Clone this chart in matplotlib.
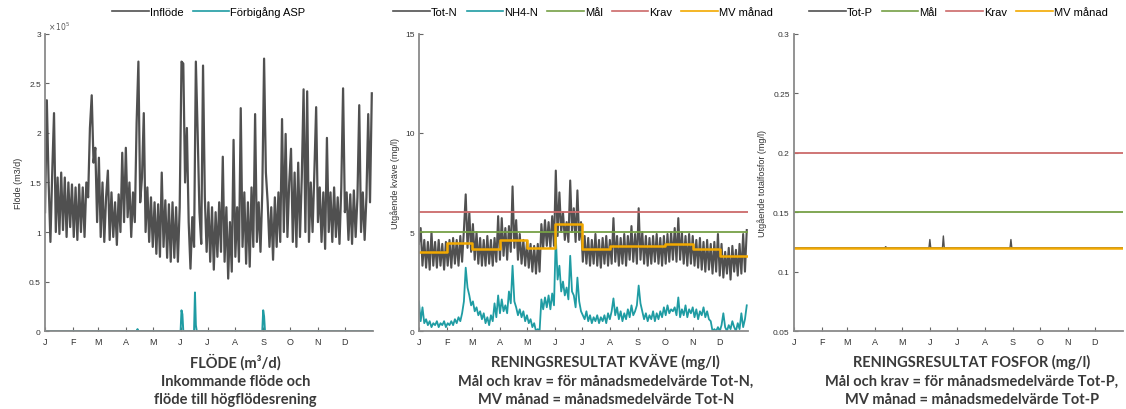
import numpy as np
import matplotlib
matplotlib.use("Agg")
import matplotlib.pyplot as plt

plt.rcParams['font.family'] = ['Liberation Sans', 'DejaVu Sans']

month_labels = ["J", "F", "M", "A", "M", "J", "J", "A", "S", "O", "N", "D"]
month_start = [0, 31, 59, 90, 120, 151, 181, 212, 243, 273, 304, 334]

# inflow, unit 1e5 m3/d, every second day
inflow_e5 = [
    1.20, 2.33, 1.50, 0.90, 1.60, 2.20, 1.00, 1.55, 0.98, 1.60, 1.02, 1.55, 0.95, 1.50, 1.05, 1.48,  # jan
    0.95, 1.45, 0.92, 1.48, 1.00, 1.45, 0.95, 1.50, 1.35, 2.05, 2.38, 1.70, 1.85, 1.10,  # feb
    1.75, 0.95, 1.50, 0.90, 1.35, 1.62, 0.92, 1.40, 0.95, 1.30, 0.87, 1.38, 1.00, 1.80, 1.10, 1.85,  # mar
    1.15, 1.50, 0.95, 1.40, 1.10, 2.10, 2.72, 1.30, 1.55, 2.20, 1.00, 1.45, 0.90, 1.35, 0.85,  # apr
    1.30, 0.78, 1.28, 0.75, 1.60, 0.85, 1.32, 0.74, 1.28, 0.70, 1.30, 0.74, 1.25, 0.70, 1.25,  # maj
    2.72, 2.70, 1.50, 2.05, 1.10, 0.63, 1.15, 0.85, 2.72, 2.00, 1.20, 0.88, 2.68, 1.35, 0.80,  # jun
    1.30, 0.70, 1.25, 0.62, 1.20, 0.75, 1.30, 0.80, 1.76, 0.70, 1.25, 0.53, 1.10, 0.60, 1.93, 0.75,  # jul
    1.25, 0.70, 2.25, 0.85, 1.40, 0.68, 1.30, 0.65, 1.45, 0.85, 2.19, 0.90, 1.30, 0.80, 1.40,  # aug
    2.75, 1.60, 1.30, 0.85, 1.25, 0.72, 1.35, 0.85, 1.40, 0.90, 2.14, 1.00, 1.99, 0.95, 1.50,  # sep
    1.84, 0.90, 1.60, 0.85, 1.70, 0.95, 1.55, 2.44, 1.00, 2.42, 0.90, 1.50, 1.00, 1.60, 2.26,  # okt
    1.10, 1.45, 0.90, 1.40, 0.83, 1.95, 1.00, 1.40, 0.90, 1.45, 0.95, 1.35, 0.88, 1.45, 2.45,  # nov
    1.20, 1.40, 0.92, 1.38, 0.88, 1.42, 0.95, 1.35, 2.28, 1.00, 1.40, 0.92, 1.35, 2.19, 1.30, 2.40,  # dec
]

# bypass ASP, unit 1e5 m3/d
bypass_days = [0, 102, 103, 104, 151, 152, 153, 154, 166, 167, 168, 169, 242, 243, 244, 245, 365]
bypass_e5 = [0, 0, 0.02, 0, 0, 0.21, 0.17, 0, 0, 0.39, 0.06, 0, 0, 0.21, 0.15, 0, 0]

# Tot-N, mg/l, every second day
tot_n = [
    4.4, 5.2, 3.3, 4.6, 3.2, 4.5, 3.1, 5.0, 3.3, 4.5, 3.2, 4.6, 3.3, 4.4, 3.1, 4.5,
    3.3, 4.6, 3.2, 4.7, 3.4, 4.6, 3.3, 4.8, 3.5, 5.1, 6.9, 4.2, 6.0, 4.0,
    5.4, 3.6, 5.0, 3.4, 4.7, 3.3, 4.6, 3.3, 4.8, 3.4, 4.6, 3.3, 4.7, 3.5, 5.8, 3.6,
    5.7, 3.8, 5.2, 3.6, 5.3, 4.0, 7.3, 4.2, 5.6, 3.6, 4.9, 3.4, 4.6, 3.3, 4.5,
    3.2, 4.4, 3.0, 4.3, 2.9, 4.4, 3.0, 5.4, 4.2, 5.6, 4.3, 5.5, 4.2, 5.8, 4.3,
    8.1, 4.8, 7.0, 5.0, 6.0, 4.6, 5.5, 4.5, 7.6, 5.0, 6.2, 4.5, 7.1, 4.6, 5.5,
    3.5, 4.8, 3.4, 4.7, 3.3, 4.6, 3.4, 4.9, 3.3, 4.6, 3.2, 4.7, 3.4, 4.8, 3.3, 4.6,
    3.4, 5.7, 3.5, 4.8, 3.3, 4.7, 3.4, 4.9, 3.3, 4.8, 3.6, 5.3, 3.5, 4.9, 3.4,
    6.2, 3.6, 5.0, 3.4, 4.8, 3.3, 4.7, 3.4, 4.8, 3.5, 4.9, 3.4, 4.7, 3.3, 4.8,
    3.4, 4.9, 3.5, 5.0, 3.6, 5.2, 3.5, 5.7, 3.6, 5.0, 3.4, 4.8, 3.3, 4.9, 3.4,
    4.8, 3.3, 4.6, 3.2, 4.7, 3.1, 4.5, 3.0, 4.6, 3.1, 4.4, 2.9, 4.5, 3.0, 4.9,
    2.8, 4.4, 2.7, 4.0, 2.9, 4.2, 2.6, 4.3, 3.0, 4.1, 2.8, 4.4, 2.9, 4.9, 3.0, 5.1,
]

# NH4-N, mg/l, every second day
nh4_n = [
    1.5, 0.5, 1.2, 0.4, 0.6, 0.3, 0.5, 0.2, 0.4, 0.3, 0.5, 0.2, 0.4, 0.3, 0.5, 0.2,
    0.4, 0.3, 0.5, 0.3, 0.6, 0.4, 0.7, 0.5, 0.9, 1.5, 3.2, 2.2, 1.8, 1.3,
    1.5, 1.0, 1.2, 0.8, 1.0, 0.6, 0.9, 0.4, 0.7, 0.3, 0.8, 0.5, 1.4, 0.7, 1.8, 0.9,
    1.6, 1.0, 1.3, 0.9, 2.0, 1.4, 3.3, 1.5, 1.2, 0.8, 1.1, 0.7, 1.0, 0.5, 0.8,
    0.4, 0.6, 0.2, 0.4, 0.0, 0.1, 0.0, 1.6, 1.1, 1.7, 1.2, 1.8, 1.1, 1.9, 1.3,
    4.8, 2.6, 3.3, 2.0, 2.5, 1.8, 2.2, 1.6, 3.8, 2.0, 1.8, 1.2, 2.7, 1.5, 1.0,
    0.8, 0.6, 1.0, 0.5, 0.8, 0.4, 0.7, 0.5, 0.8, 0.4, 0.7, 0.5, 0.8, 0.4, 0.9, 0.6,
    1.0, 1.65, 0.8, 1.2, 0.6, 1.0, 0.5, 0.9, 0.6, 1.1, 0.7, 1.3, 0.8, 1.0, 1.3,
    2.3, 1.4, 1.0, 0.6, 0.9, 0.5, 0.8, 0.6, 1.0, 0.5, 0.9, 0.6, 1.0, 0.7, 1.2,
    0.8, 1.3, 0.9, 1.1, 1.0, 1.2, 0.8, 1.7, 0.7, 1.1, 0.8, 1.3, 0.7, 1.1, 0.9,
    1.2, 0.7, 1.1, 0.6, 1.0, 0.8, 1.2, 0.7, 1.0, 0.6, 0.5, 0.0, 0.1, 0.0, 0.2,
    0.0, 0.3, 0.9, 0.2, 0.0, 0.3, 0.1, 0.5, 0.2, 0.0, 0.4, 0.1, 0.9, 0.2, 0.6, 1.3,
]

mv_n = [4.0, 4.45, 4.15, 4.6, 4.2, 5.4, 4.15, 4.3, 4.27, 4.38, 4.15, 3.8]
mal_n = 5.0
krav_n = 6.0

tot_p_days = [0, 101, 102, 103, 150, 151, 152, 165, 166, 167, 240, 241, 242, 365]
tot_p = [0.12, 0.12, 0.121, 0.12, 0.12, 0.127, 0.12, 0.12, 0.13, 0.12, 0.12, 0.127, 0.12, 0.12]
mv_p = [0.12] * 12
mal_p = 0.15
krav_p = 0.2

gray = "#505050"
teal = "#1f9ca3"
green = "#76a046"
red = "#cc6a6a"
orange = "#f2a900"
axcol = "#8a8a8a"

fig = plt.figure(figsize=(11.26, 4.10), dpi=100)
ax1 = fig.add_axes([0.040, 0.190, 0.291, 0.725])
ax2 = fig.add_axes([0.372, 0.190, 0.292, 0.725])
ax3 = fig.add_axes([0.705, 0.190, 0.292, 0.725])

mdays = month_start + [365]

# panel 1
d = np.linspace(0, 364, len(inflow_e5))
ax1.plot(d, inflow_e5, color=gray, lw=1.6, label="Inflöde")
ax1.plot(bypass_days, bypass_e5, color=teal, lw=1.4, label="Förbigång ASP")
ax1.set_ylim(0, 3)
ax1.set_yticks([0, 0.5, 1, 1.5, 2, 2.5, 3])
ax1.set_yticklabels(["0", "0.5", "1", "1.5", "2", "2.5", "3"])
ax1.set_ylabel("Flöde (m3/d)", fontsize=6.5, labelpad=4)
ax1.text(0.01, 1.005, r"$\times\,10^5$", transform=ax1.transAxes, fontsize=5.5,
         color="#555555", va="bottom")

# panel 2
d = np.linspace(0, 364, len(tot_n))
ax2.plot(d, tot_n, color=gray, lw=1.5, label="Tot-N")
ax2.plot(d, nh4_n, color=teal, lw=1.3, label="NH4-N")
ax2.axhline(mal_n, color=green, lw=1.3, label="Mål")
ax2.axhline(krav_n, color=red, lw=1.3, label="Krav")
ax2.step(mdays, mv_n + [mv_n[-1]], where="post", color=orange, lw=1.8, label="MV månad")
ax2.set_ylim(0, 15)
ax2.set_yticks([0, 5, 10, 15])
ax2.set_ylabel("Utgående kväve (mg/l)", fontsize=6.5, labelpad=4)

# panel 3
ax3.plot(tot_p_days, tot_p, color=gray, lw=1.0, label="Tot-P")
ax3.axhline(mal_p, color=green, lw=1.3, label="Mål")
ax3.axhline(krav_p, color=red, lw=1.3, label="Krav")
ax3.step(mdays, mv_p + [mv_p[-1]], where="post", color=orange, lw=1.8, label="MV månad")
ax3.set_ylim(0.05, 0.3)
ax3.set_yticks([0.05, 0.1, 0.15, 0.2, 0.25, 0.3])
ax3.set_yticklabels(["0.05", "0.1", "0.15", "0.2", "0.25", "0.3"])
ax3.set_ylabel("Utgående totalfosfor (mg/l)", fontsize=6.5, labelpad=4)

for ax, ncol in [(ax1, 2), (ax2, 5), (ax3, 4)]:
    ax.set_xlim(0, 365)
    ax.set_xticks(month_start)
    ax.set_xticklabels(month_labels)
    ax.spines["top"].set_visible(False)
    ax.spines["right"].set_visible(False)
    for s in ["left", "bottom"]:
        ax.spines[s].set_color(axcol)
        ax.spines[s].set_linewidth(1.3)
    ax.tick_params(direction="in", length=3, width=0.8, color="#666666",
                   labelsize=6, labelcolor="#333333", pad=3)
    ax.tick_params(axis="x", labelsize=6.5, pad=4)
    ax.yaxis.label.set_color("#333333")
    leg = ax.legend(loc="center", bbox_to_anchor=(0.5, 1.075), ncol=ncol, frameon=False,
                    fontsize=8, handlelength=3.3, handletextpad=0.1, columnspacing=0.8,
                    borderaxespad=0)
    for h in leg.get_lines():
        h.set_linewidth(1.2)

titles = [
    (0.209, ["FLÖDE (m³/d)", "Inkommande flöde och", "flöde till högflödesrening"]),
    (0.538, ["RENINGSRESULTAT KVÄVE (mg/l)", "Mål och krav = för månadsmedelvärde Tot-N,",
             "MV månad = månadsmedelvärde Tot-N"]),
    (0.863, ["RENINGSRESULTAT FOSFOR (mg/l)", "Mål och krav = för månadsmedelvärde Tot-P,",
             "MV månad = månadsmedelvärde Tot-P"]),
]
for x, lines in titles:
    for y, txt in zip([0.117, 0.069, 0.025], lines):
        fig.text(x, y, txt, ha="center", va="center", fontsize=10.5, fontweight="bold",
                 family=["Lato", "DejaVu Sans"], color="#3a3a3a")

fig.savefig("out.png", dpi=100)
